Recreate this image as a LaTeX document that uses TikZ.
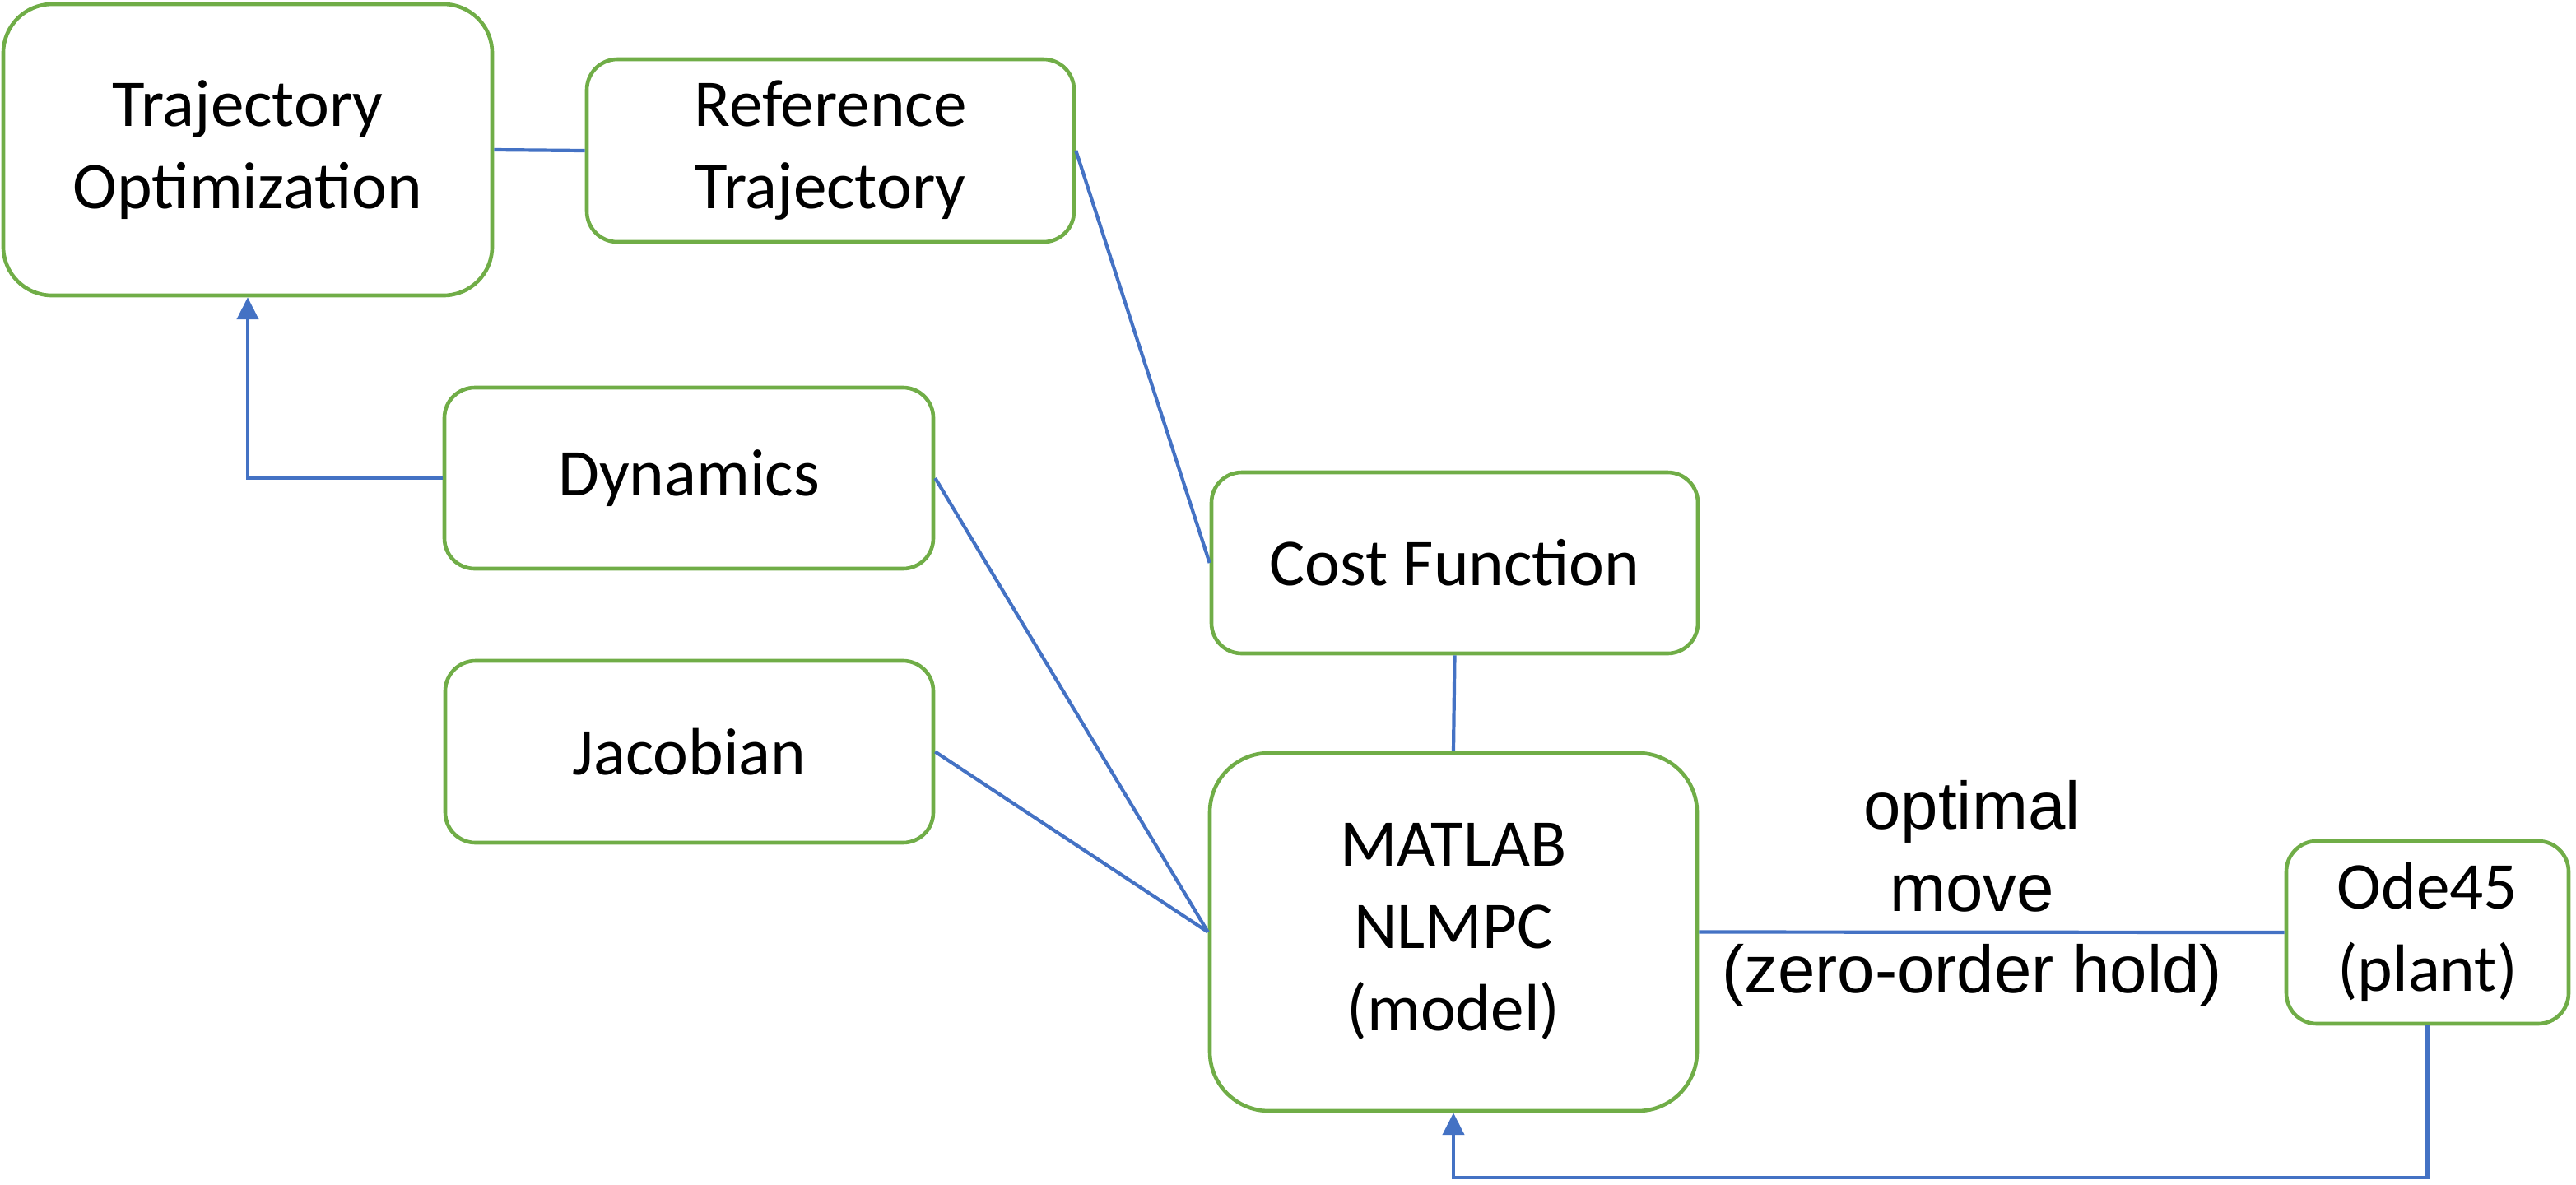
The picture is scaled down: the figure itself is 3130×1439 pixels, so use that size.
\documentclass[tikz,border=0pt]{standalone}
\usepackage{fontspec}
\setmainfont{Carlito}
\newfontfamily\arialfont{Liberation Sans}
\usetikzlibrary{arrows.meta}
\definecolor{boxgreen}{HTML}{70AD47}
\definecolor{linkblue}{HTML}{4472C4}
\tikzset{
  box/.style={draw=boxgreen, line width=1.15pt, fill=white, align=center,
    inner sep=0pt, font=\fontsize{20.3}{25}\selectfont},
  link/.style={draw=linkblue, line width=1.05pt},
  arr/.style={-{Triangle[length=6.7pt,width=6.5pt]}},
  lbl/.style={align=center, inner sep=0pt, font=\arialfont\fontsize{20.4}{24.8}\selectfont}
}
\begin{document}
\begin{tikzpicture}[x=0.25pt,y=-0.25pt]
\useasboundingbox (0,0) rectangle (3130,1439);
\node[box, minimum width=148.5pt, minimum height=88.5pt, rounded corners=14.8pt] (TO) at (301,182) {Trajectory\\Optimization};
\node[box, minimum width=148pt, minimum height=55.5pt, rounded corners=9.3pt] (RT) at (1009,183) {Reference\\Trajectory};
\node[box, minimum width=148.5pt, minimum height=55pt, rounded corners=9.2pt] (DY) at (837,581) {Dynamics};
\node[box, minimum width=148.25pt, minimum height=55.25pt, rounded corners=9.2pt] (JA) at (837.5,913.5) {Jacobian};
\node[box, minimum width=147.75pt, minimum height=55pt, rounded corners=9.2pt] (CF) at (1767.5,684) {Cost Function};
\node[box, minimum width=148pt, minimum height=108.75pt, rounded corners=18pt] (NL) at (1766,1132.5) {MATLAB\\NLMPC\\(model)};
\node[box, minimum width=85.75pt, minimum height=55.5pt, rounded corners=9.3pt] (OD) at (2949.5,1133) {Ode45\\(plant)};
\coordinate (low) at (0,1431);
\node[lbl] (ZL) at (2396,1086) {optimal\\move\\(zero-order hold)};
\draw[link] (TO.east) -- (RT.west);
\draw[link] (RT.east) -- (CF.west);
\draw[link, arr] (DY.west) -| (TO.south);
\draw[link] (DY.east) -- (NL.west);
\draw[link] (JA.east) -- (NL.west);
\draw[link] (CF.south) -- (NL.north);
\draw[link] (NL.east) -- (OD.west);
\draw[link, arr] (OD.south) -- (OD.south |- low) -| (NL.south);
\end{tikzpicture}
\end{document}
